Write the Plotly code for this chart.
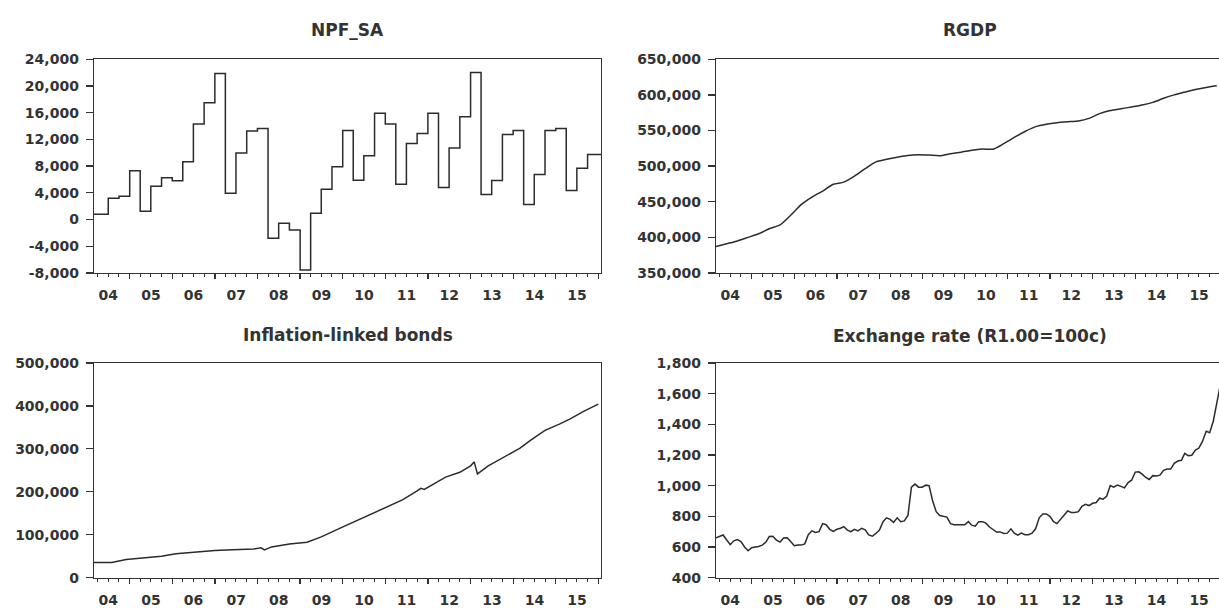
import plotly.graph_objects as go
import pandas as pd

# ---------------- data ----------------
# NPF_SA: quarterly values 2004Q1 .. 2015Q4 (step series)
npf_quarters = pd.period_range("2004Q1", "2015Q4", freq="Q")
npf_values = [
    800, 800, 3200, 3500,
    7300, 1250, 5000, 6250,
    5800, 8650, 14300, 17500,
    21850, 3950, 9950, 13250,
    13650, -2800, -550, -1550,
    -7550, 950, 4550, 7900,
    13350, 5900, 9550, 15900,
    14300, 5300, 11400, 12900,
    15900, 4800, 10700, 15400,
    22000, 3750, 5850, 12750,
    13350, 2250, 6750, 13350,
    13650, 4350, 7700, 9750,
]

# RGDP: quarterly readings (last month of each quarter)
rgdp_dates = pd.date_range("2004-03-01", "2015-12-01", freq="3MS")
rgdp_values = [
    387000, 391000, 395000, 400000,
    405000, 412000, 417500, 431000,
    446000, 456500, 465000, 474500,
    477500, 486000, 496500, 506000,
    509500, 512500, 515000, 516000,
    515500, 514700, 517400, 519500,
    522300, 524000, 523800, 531500,
    540300, 548600, 555500, 558900,
    561000, 562300, 563400, 567000,
    573700, 578000, 580500, 583000,
    585700, 589500, 595200, 600000,
    603800, 607500, 610500, 612800,
]

# Inflation-linked bonds: readings at selected months
ilb_dates = [
    "2004-03", "2004-08", "2004-12", "2005-06", "2005-10", "2006-02", "2006-07",
    "2007-01", "2007-06", "2007-12", "2008-02", "2008-03", "2008-05", "2008-10",
    "2009-03", "2009-07", "2009-12", "2010-05", "2010-10", "2011-02", "2011-06",
    "2011-10", "2011-11", "2011-12", "2012-03", "2012-06", "2012-10", "2013-01",
    "2013-02", "2013-03", "2013-06", "2013-11", "2014-03", "2014-06", "2014-10",
    "2015-02", "2015-05", "2015-09", "2016-01",
]
ilb_values = [
    35000, 35500, 42000, 46500, 50000, 55500, 59200,
    63000, 65200, 66700, 69500, 64500, 71500, 78500,
    82500, 95000, 114000, 133000, 151500, 166500, 181500,
    202000, 208000, 205500, 219000, 234000, 245300, 260300,
    269500, 241500, 260300, 282600, 301500, 320000, 342800,
    357600, 369000, 387800, 404000,
]

# Exchange rate (cents): monthly 2004m3 .. 2016m1
fx_dates = pd.date_range("2004-03-01", "2016-01-01", freq="MS")
fx_values = [
    660, 668, 678, 645, 615, 640, 648, 635, 600, 575,
    595, 600, 603, 612, 630, 668, 670, 645, 632, 658, 660, 635,
    608, 613, 612, 620, 680, 705, 695, 700, 752, 745, 715, 702,
    715, 722, 733, 710, 700, 715, 705, 722, 712, 678, 670, 688,
    710, 765, 790, 780, 760, 790, 765, 770, 805, 990, 1010, 990,
    990, 1003, 1000, 900, 830, 805, 798, 795, 752, 745, 745, 745,
    745, 765, 742, 735, 765, 765, 755, 730, 712, 697, 698, 688,
    690, 718, 690, 677, 690, 680, 680, 690, 720, 790, 815, 815,
    800, 765, 752, 780, 810, 835, 825, 825, 830, 865, 878, 870,
    885, 890, 918, 912, 930, 1000, 990, 1003, 995, 985, 1020, 1035,
    1088, 1090, 1075, 1053, 1040, 1065, 1063, 1068, 1100, 1108, 1108, 1145,
    1160, 1165, 1210, 1195, 1198, 1232, 1245, 1290, 1355, 1345, 1420, 1530,
    1660,
]

titles = ["NPF_SA", "RGDP", "Inflation-linked bonds", "Exchange rate (R1.00=100c)"]
y_ticks = [
    list(range(-8000, 24001, 4000)),
    list(range(350000, 650001, 50000)),
    list(range(0, 500001, 100000)),
    list(range(400, 1801, 200)),
]

# ---------------- figure ----------------
W, H = 1219, 608
LINE = "#2b2b2b"
AX = "#333333"
FONT = "DejaVu Sans"

# step series: each quarter held until the next quarter start; last closes at sample end
npf_x = [p.start_time for p in npf_quarters] + [pd.Timestamp("2016-02-01")]
npf_y = npf_values + [npf_values[-1]]

fig = go.Figure()
fig.add_trace(go.Scatter(x=npf_x, y=npf_y, mode="lines", line=dict(color=LINE, width=1.5, shape="hv"),
                         xaxis="x", yaxis="y"))
fig.add_trace(go.Scatter(x=rgdp_dates, y=rgdp_values, mode="lines", line=dict(color=LINE, width=1.5, shape="spline", smoothing=0.6),
                         xaxis="x2", yaxis="y2"))
fig.add_trace(go.Scatter(x=pd.to_datetime(ilb_dates), y=ilb_values, mode="lines", line=dict(color=LINE, width=1.5),
                         xaxis="x3", yaxis="y3"))
fig.add_trace(go.Scatter(x=fx_dates, y=fx_values, mode="lines", line=dict(color=LINE, width=1.5),
                         xaxis="x4", yaxis="y4"))

left_dom = [94 / W, 601 / W]
right_dom = [716 / W, 1.0]
top_dom = [1 - 274 / H, 1 - 53 / H]
bot_dom = [1 - 589 / H, 1 - 367 / H]
left_range = ["2004-03-01", "2016-01-24"]
right_range = ["2004-03-01", "2015-12-20"]

tickfont = dict(family=FONT, size=14, color="#333333", weight="bold")


def xaxis(dom, rng, anchor):
    return dict(
        domain=dom, range=rng, anchor=anchor, type="date",
        tick0="2004-01-01", dtick="M12", tickformat="%y", ticklabelmode="period",
        ticks="outside", ticklen=5, tickwidth=1.3, tickcolor=AX, ticklabelstandoff=4,
        minor=dict(tick0="2004-01-01", dtick="M3", ticks="outside", ticklen=3, tickwidth=1, tickcolor=AX, showgrid=False),
        showline=True, linecolor=AX, linewidth=1.3, mirror=True,
        showgrid=False, zeroline=False, tickfont=tickfont, fixedrange=True,
    )


def yaxis(dom, vals, anchor, mirror):
    return dict(
        domain=dom, range=[vals[0], vals[-1]], anchor=anchor,
        tickvals=vals, ticktext=[f"{v:,}" for v in vals],
        ticks="outside", ticklen=7, tickwidth=1.3, tickcolor=AX, ticklabelstandoff=4,
        showline=True, linecolor=AX, linewidth=1.3, mirror=mirror,
        showgrid=False, zeroline=False, tickfont=tickfont, fixedrange=True,
    )


fig.update_layout(
    width=W, height=H,
    margin=dict(l=0, r=0, t=0, b=0),
    paper_bgcolor="white", plot_bgcolor="white",
    showlegend=False,
    xaxis=xaxis(left_dom, left_range, "y"),
    yaxis=yaxis(top_dom, y_ticks[0], "x", True),
    xaxis2=xaxis(right_dom, right_range, "y2"),
    yaxis2=yaxis(top_dom, y_ticks[1], "x2", False),
    xaxis3=xaxis(left_dom, left_range, "y3"),
    yaxis3=yaxis(bot_dom, y_ticks[2], "x3", True),
    xaxis4=xaxis(right_dom, right_range, "y4"),
    yaxis4=yaxis(bot_dom, y_ticks[3], "x4", False),
)

title_pos = [((94 + 601) / 2, 23), ((716 + 1223) / 2, 23), ((94 + 601) / 2, 338), ((716 + 1223) / 2, 339)]
for t, (px, py) in zip(titles, title_pos):
    fig.add_annotation(text=t, x=px / W, y=1 - py / H, xref="paper", yref="paper",
                       showarrow=False, xanchor="center", yanchor="middle",
                       font=dict(family=FONT, size=17, color="#333333", weight="bold"))

fig.write_html(
    "out.html",
    config={"displayModeBar": False, "staticPlot": True},
    post_script="document.body.style.margin='0';document.body.style.overflow='hidden';",
)
